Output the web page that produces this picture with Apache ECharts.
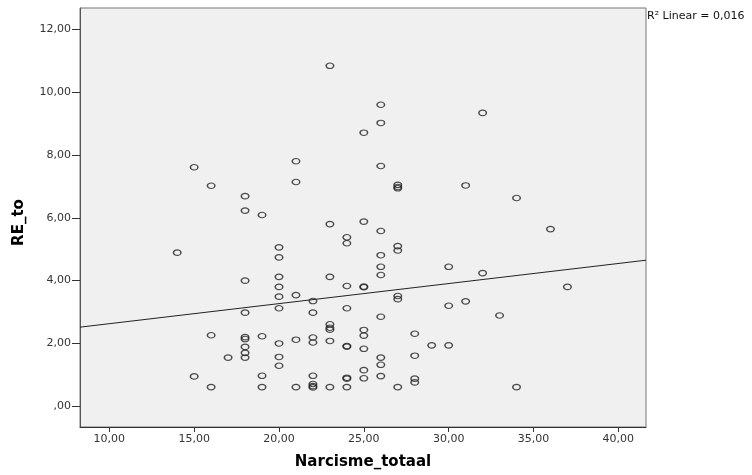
<!DOCTYPE html>
<html><head><meta charset="utf-8">
<script src="https://cdn.jsdelivr.net/npm/echarts@6/dist/echarts.min.js"></script>
<style>html,body{margin:0;padding:0;background:#fff}#c{width:752px;height:475px}</style>
</head><body><div id="c"></div>
<script>
// Narcisme_totaal (x) and RE_to (y)
const narcisme = [
  14,
  15, 15,
  16, 16, 16,
  17,
  18, 18, 18, 18, 18, 18, 18, 18, 18,
  19, 19, 19, 19,
  20, 20, 20, 20, 20, 20, 20, 20, 20,
  21, 21, 21, 21, 21,
  22, 22, 22, 22, 22, 22, 22, 22,
  23, 23, 23, 23, 23, 23, 23, 23,
  24, 24, 24, 24, 24, 24, 24, 24, 24,
  25, 25, 25, 25, 25, 25, 25, 25, 25,
  26, 26, 26, 26, 26, 26, 26, 26, 26, 26, 26,
  27, 27, 27, 27, 27, 27, 27, 27,
  28, 28, 28, 28,
  29,
  30, 30, 30,
  31, 31,
  32, 32,
  33,
  34, 34,
  36,
  37
];
const reTo = [
  4.89,
  7.61, 0.95,
  7.02, 2.26, 0.61,
  1.55,
  6.69, 6.23, 4.00, 2.98, 2.20, 2.14, 1.89, 1.70, 1.55,
  6.09, 2.23, 0.97, 0.61,
  5.06, 4.74, 4.12, 3.80, 3.49, 3.12, 2.00, 1.57, 1.29,
  7.80, 7.14, 3.54, 2.12, 0.61,
  3.35, 2.98, 2.19, 2.03, 0.97, 0.71, 0.64, 0.60,
  10.84, 5.80, 4.12, 2.61, 2.50, 2.44, 2.08, 0.61,
  5.38, 5.19, 3.83, 3.12, 1.92, 1.90, 0.91, 0.88, 0.61,
  8.71, 5.88, 3.81, 3.79, 2.43, 2.25, 1.83, 1.15, 0.89,
  9.60, 9.02, 7.65, 5.58, 4.81, 4.44, 4.18, 2.85, 1.55, 1.32, 0.96,
  7.05, 6.98, 6.94, 5.10, 4.96, 3.51, 3.41, 0.61,
  2.31, 1.61, 0.88, 0.76,
  1.94,
  4.44, 3.20, 1.94,
  7.03, 3.34,
  9.34, 4.24,
  2.89,
  6.63, 0.61,
  5.64,
  3.80
];
const xTicks = [10, 15, 20, 25, 30, 35, 40];
const yTicks = [0, 2, 4, 6, 8, 10, 12];
const xTitle = 'Narcisme_totaal';
const yTitle = 'RE_to';
const fitLabel = 'R\u00B2 Linear = 0,016';
// fit line coefficients (RE_to = a + b * Narcisme_totaal)
const fitIntercept = 1.99;
const fitSlope = 0.0639;

const xMin = 8.273, xMax = 41.63, yMin = -0.66, yMax = 12.68;
const fitData = [xMin, xMax].map(x => [x, fitIntercept + fitSlope * x]);

const fmt = v => { let s = Number(v).toFixed(2).replace('.', ','); if (s.startsWith('0,')) s = s.slice(1); return s; };
const font = 'DejaVu Sans';

const chart = echarts.init(document.getElementById('c'), null, { renderer: 'canvas' });
chart.setOption({
  backgroundColor: '#ffffff',
  animation: false,
  grid: { left: 80, right: 106, top: 8, bottom: 48, show: true, backgroundColor: '#F0F0F0', borderColor: '#777', borderWidth: 1 },
  xAxis: {
    type: 'value', min: xMin, max: xMax,
    name: xTitle, nameLocation: 'middle', nameGap: 28,
    nameTextStyle: { fontFamily: font, fontWeight: 'bold', fontSize: 15, color: '#000' },
    axisLine: { show: true, onZero: false, lineStyle: { color: '#333', width: 1 } },
    axisTick: { show: true, length: 5, customValues: xTicks, lineStyle: { color: '#333' } },
    axisLabel: { customValues: xTicks, formatter: fmt, fontFamily: font, fontSize: 11, color: '#333', margin: 7 },
    splitLine: { show: false }
  },
  yAxis: {
    type: 'value', min: yMin, max: yMax,
    axisLine: { show: true, onZero: false, lineStyle: { color: '#555', width: 1 } },
    axisTick: { show: true, length: 8, customValues: yTicks, lineStyle: { color: '#333' } },
    axisLabel: { customValues: yTicks, formatter: fmt, fontFamily: font, fontSize: 11, color: '#333', margin: 9 },
    splitLine: { show: false }
  },
  graphic: [
    {
      type: 'text', left: 647, top: 11,
      style: { text: fitLabel, font: '11px "DejaVu Sans"', fill: '#111' }
    },
    {
      type: 'text', x: 19.5, y: 222.5, rotation: Math.PI / 2,
      style: { text: yTitle, font: 'bold 15px "DejaVu Sans"', fill: '#000', align: 'center', verticalAlign: 'middle' }
    }
  ],
  series: [
    {
      type: 'scatter',
      data: narcisme.map((x, i) => [x, reTo[i]]),
      symbol: 'path://M0,5 C0,2.24 2.24,0 5,0 C7.76,0 10,2.24 10,5 C10,7.76 7.76,10 5,10 C2.24,10 0,7.76 0,5 Z',
      symbolSize: [7.5, 5.5],
      itemStyle: { color: 'rgba(0,0,0,0)', borderColor: '#222', borderWidth: 1.3 },
      silent: true
    },
    {
      type: 'line',
      data: fitData,
      showSymbol: false,
      lineStyle: { color: '#222', width: 1 },
      silent: true
    }
  ]
});
</script>
</body></html>
